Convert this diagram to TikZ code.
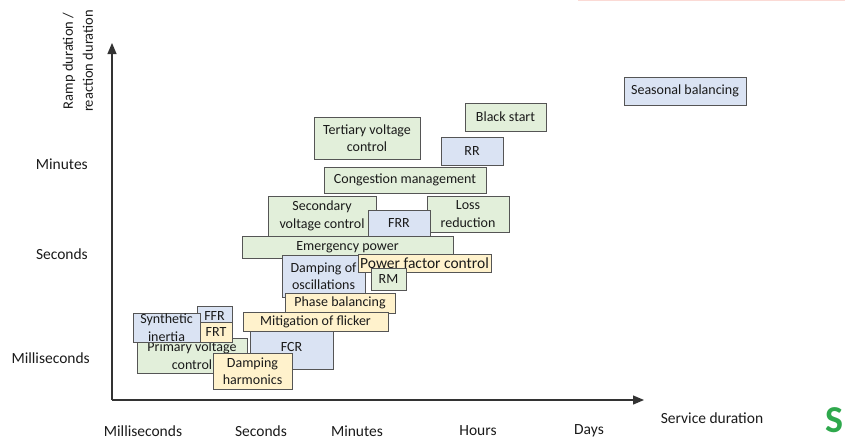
\documentclass[tikz,border=0pt]{standalone}
\usepackage{fontspec}
\setmainfont{Carlito}
\usetikzlibrary{arrows.meta}
\definecolor{gfill}{HTML}{E2EFDA}
\definecolor{bfill}{HTML}{DAE3F3}
\definecolor{yfill}{HTML}{FFF2CC}
\definecolor{bord}{HTML}{555555}
\definecolor{txt}{HTML}{1A1A1A}
\definecolor{sgreen}{HTML}{2EA84C}
\definecolor{pinkline}{HTML}{FBDAD5}
\tikzset{
  svc/.style={draw=bord, line width=1pt, inner sep=0pt, align=center, text=txt,
    font=\fontsize{14}{17.5}\selectfont},
  gbox/.style={svc, fill=gfill},
  bbox/.style={svc, fill=bfill},
  ybox/.style={svc, fill=yfill},
  lab/.style={text=txt, font=\fontsize{15.5}{18}\selectfont, inner sep=0pt},
  axis/.style={draw=black!80, line width=1.2pt, -{Triangle[length=11pt,width=9pt]}}
}
\begin{document}
\begin{tikzpicture}[x=1pt,y=-1pt]
\useasboundingbox (0,0) rectangle (845,442);
\draw[pinkline, line width=1.2pt] (578,0.8) -- (845,0.8);
% axes
\coordinate (o) at (112,400);
\coordinate (ytop) at (112,43);
\coordinate (xend) at (644,400);
\draw[axis] (o) -- (ytop);
\draw[axis] (o) -- (xend);
% axis titles
\node[lab, rotate=90, align=center, font=\fontsize{14.5}{20}\selectfont] (ytitle) at (78,61) {Ramp duration /\\reaction duration};
\node[lab] (xtitle) at (712,418) {Service duration};
% y ticks
\node[lab, anchor=east] (ymin) at (88,164) {Minutes};
\node[lab, anchor=east] (ysec) at (88,254) {Seconds};
\node[lab, anchor=east] (yms) at (90,358) {Milliseconds};
% x ticks
\node[lab] (xms) at (143,431) {Milliseconds};
\node[lab] (xsec) at (261,431) {Seconds};
\node[lab] (xmin) at (357,431) {Minutes};
\node[lab] (xh) at (478,431) {Hours};
\node[lab] (xd) at (589,431) {Days};
% boxes (back to front)
\node[bbox, minimum width=122, minimum height=28] (seas) at (685,91) {Seasonal balancing};
\node[gbox, minimum width=81, minimum height=28] (black) at (505.5,117) {Black start};
\node[gbox, minimum width=106, minimum height=42] (tert) at (367,138) {Tertiary voltage\\control};
\node[bbox, minimum width=62, minimum height=28] (rr) at (472,151) {RR};
\node[gbox, minimum width=162, minimum height=26] (cong) at (405,180) {Congestion management};
\node[gbox, minimum width=108, minimum height=40] (sec) at (322,216) {Secondary\\voltage control};
\node[gbox, minimum width=82, minimum height=36] (loss) at (468,214) {Loss\\reduction};
\node[bbox, minimum width=62, minimum height=27] (frr) at (399,223.5) {FRR};
\node[gbox, minimum width=211, minimum height=22] (emer) at (347.5,247) {Emergency power};
\node[bbox, minimum width=83, minimum height=42] (dosc) at (323.5,276) {Damping of\\oscillations};
\node[ybox, minimum width=133, minimum height=18, font=\fontsize{15.5}{17}\selectfont] (pfc) at (424.5,263) {Power factor control};
\node[gbox, minimum width=35, minimum height=22] (rm) at (388.5,279) {RM};
\node[ybox, minimum width=110, minimum height=20] (phase) at (340,303) {Phase balancing};
\node[bbox, minimum width=83, minimum height=44] (fcr) at (291.5,347) {FCR};
\node[ybox, minimum width=145, minimum height=19] (flick) at (315.5,321.5) {Mitigation of flicker};
\node[bbox, minimum width=35, minimum height=20] (ffr) at (214.5,316) {FFR};
\node[gbox, minimum width=110, minimum height=35] (prim) at (192,355.5) {Primary voltage\\control};
\node[bbox, minimum width=67, minimum height=29] (synth) at (166.5,327.5) {Synthetic\\inertia};
\node[ybox, minimum width=32, minimum height=20] (frt) at (216,332) {FRT};
\node[ybox, minimum width=79, minimum height=36] (dharm) at (252.5,371) {Damping\\harmonics};
% cropped logo letter
\node[text=sgreen, font=\fontsize{38}{38}\selectfont\bfseries, inner sep=0pt, anchor=east] (logo) at (844,420) {S};
\end{tikzpicture}
\end{document}
